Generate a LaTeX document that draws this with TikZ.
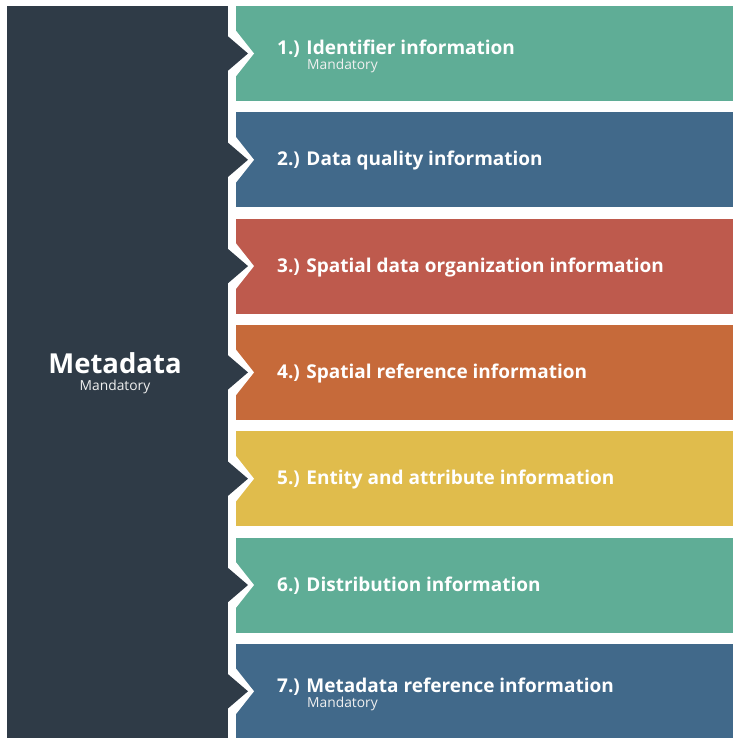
\documentclass[tikz,border=0pt]{standalone}
\usepackage{fontspec}
\setmainfont{Open Sans}
\usetikzlibrary{positioning}
\definecolor{slate}{HTML}{2F3B47}
\definecolor{mint}{HTML}{5FAD96}
\definecolor{steel}{HTML}{41698A}
\definecolor{brick}{HTML}{BE5A4D}
\definecolor{rust}{HTML}{C66A3A}
\definecolor{mustard}{HTML}{E0BC4C}
\begin{document}
\begin{tikzpicture}[x=1pt, y=-1pt,
    bandlabel/.style={anchor=base west, inner sep=0pt, text=white, font=\fontsize{19}{22}\selectfont\bfseries},
    sublabel/.style={anchor=base west, inner sep=0pt, text=white!88!gray, font=\fontsize{13.8}{16}\selectfont}]
    \useasboundingbox[fill=white] (0,0) rectangle (733,738);
    % coloured bands with their notches
    \foreach \i/\col/\dy/\txt in {1/mint/1.5/{1.) Identifier information}, 2/steel/6/{2.) Data quality information},
        3/brick/6/{3.) Spatial data organization information}, 4/rust/6/{4.) Spatial reference information},
        5/mustard/6/{5.) Entity and attribute information}, 6/mint/6/{6.) Distribution information},
        7/steel/1/{7.) Metadata reference information}} {
        \pgfmathsetmacro\top{6+(\i-1)*106.3}
        \pgfmathsetmacro\cy{\top+47.5}
        \fill[\col] (236,\top) rectangle (733,{min(\top+95,738)});
        \fill[white] (228,\cy-24) -- (235,\cy-24) -- (254,\cy) -- (235,\cy+24) -- (228,\cy+24) -- cycle;
        \fill[slate] (227,\cy-18) -- (248,\cy) -- (227,\cy+18) -- cycle;
        \node[bandlabel] (band\i) at (277,\cy+\dy) {\txt};
    }
    % left panel
    \fill[slate] (7,6) rectangle (228,738);
    \node[anchor=base, text=white, font=\fontsize{27.5}{30}\selectfont\bfseries, inner sep=0pt] (meta) at (115,373) {Metadata};
    \node[anchor=base, text=white!88!gray, font=\fontsize{13.8}{16}\selectfont, inner sep=0pt] (metasub) at (115,390) {Mandatory};
    \node[sublabel] (sub1) at (307,69.5) {Mandatory};
    \node[sublabel] (sub7) at (307,707) {Mandatory};
\end{tikzpicture}
\end{document}
